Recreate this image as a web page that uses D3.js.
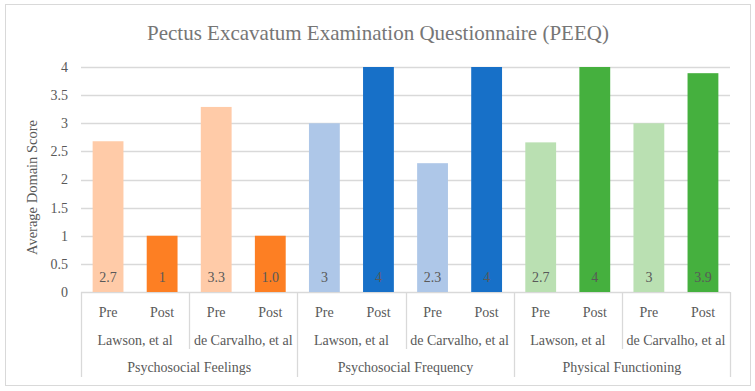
<!DOCTYPE html>
<html>
<head>
<meta charset="utf-8">
<script src="https://cdn.jsdelivr.net/npm/d3@7"></script>
<style>
  html, body { margin: 0; padding: 0; background: #fff; }
  svg { display: block; }
  svg text { font-family: "Liberation Serif", "DejaVu Serif", serif; }
</style>
</head>
<body>
<svg id="chart" width="755" height="391"></svg>
<script>
// chart values
const groups = ["Psychosocial Feelings", "Psychosocial Frequency", "Physical Functioning"];
const studies = ["Lawson, et al", "de Carvalho, et al"];
const phases = ["Pre", "Post"];
const scores = [2.68, 1, 3.29, 1, 3, 4, 2.29, 4, 2.66, 4, 3, 3.89];
const scoreLabels = ["2.7", "1", "3.3", "1.0", "3", "4", "2.3", "4", "2.7", "4", "3", "3.9"];
const yTicks = [0, 0.5, 1, 1.5, 2, 2.5, 3, 3.5, 4];

// colours by group, then Pre / Post
const palette = [
    ["#ffcba8", "#fd7f23"],
    ["#aec7e8", "#1770c8"],
    ["#bae0b2", "#45b03e"],
];

const W = 755, H = 391;
const margin = { top: 67, right: 25, bottom: 99, left: 81 };
const plotW = W - margin.left - margin.right;
const plotH = H - margin.top - margin.bottom;

const rows = [];
groups.forEach((g, gi) => {
    studies.forEach((s, si) => {
        phases.forEach((p, pi) => {
            const i = rows.length;
            rows.push({ i, group: g, gi, study: s, si, phase: p, pi, value: scores[i], label: scoreLabels[i] });
        });
    });
});

const svg = d3.select("#chart");

svg.append("rect")
    .attr("x", 5.5).attr("y", 4.5)
    .attr("width", 745).attr("height", 381)
    .attr("fill", "#fff")
    .attr("stroke", "#d9d9d9");

svg.append("text")
    .attr("x", 378).attr("y", 40)
    .attr("text-anchor", "middle")
    .attr("fill", "#767676")
    .attr("font-size", "21px")
    .text("Pectus Excavatum Examination Questionnaire (PEEQ)");

const g = svg.append("g").attr("transform", `translate(${margin.left},${margin.top})`);

const x = d3.scaleBand()
    .domain(rows.map((d) => d.i))
    .range([0, plotW])
    .paddingInner(0.43)
    .paddingOuter(0.215);
const y = d3.scaleLinear().domain([0, 4]).range([plotH, 0]);

// grid
g.append("g")
    .selectAll("line")
    .data(yTicks)
    .join("line")
    .attr("x1", 0).attr("x2", plotW)
    .attr("y1", (d) => Math.round(y(d)) + 0.5)
    .attr("y2", (d) => Math.round(y(d)) + 0.5)
    .attr("stroke", "#d9d9d9")
    .attr("stroke-width", 1.3);

const yAxis = g.append("g")
    .call(d3.axisLeft(y).tickValues(yTicks).tickFormat((d) => String(d)).tickSize(0).tickPadding(13));
yAxis.attr("font-family", null);
yAxis.select(".domain").remove();
yAxis.selectAll("text")
    .attr("fill", "#595959")
    .attr("font-size", "14px");

svg.append("text")
    .attr("transform", `translate(37,${margin.top + plotH / 2 + 8}) rotate(-90)`)
    .attr("text-anchor", "middle")
    .attr("fill", "#595959")
    .attr("font-size", "14.5px")
    .text("Average Domain Score");

// bars
g.selectAll(".bar")
    .data(rows)
    .join("rect")
    .attr("class", "bar")
    .attr("x", (d) => x(d.i))
    .attr("y", (d) => y(d.value))
    .attr("width", x.bandwidth())
    .attr("height", (d) => y(0) - y(d.value))
    .attr("fill", (d) => palette[d.gi][d.pi]);

g.selectAll(".val")
    .data(rows)
    .join("text")
    .attr("class", "val")
    .attr("x", (d) => x(d.i) + x.bandwidth() / 2)
    .attr("y", plotH - 10)
    .attr("text-anchor", "middle")
    .attr("fill", "#595959")
    .attr("font-size", "14px")
    .text((d) => d.label);

// multi-level category axis
const step = x.step();
const axisG = g.append("g").attr("transform", `translate(0,${plotH})`);
const lineColor = "#d9d9d9";

axisG.selectAll(".phase")
    .data(rows)
    .join("text")
    .attr("class", "phase")
    .attr("x", (d) => x(d.i) + x.bandwidth() / 2)
    .attr("y", 25)
    .attr("text-anchor", "middle")
    .attr("fill", "#595959")
    .attr("font-size", "14px")
    .text((d) => d.phase);

const studyCells = rows.filter((d) => d.pi === 0);
axisG.selectAll(".study")
    .data(studyCells)
    .join("text")
    .attr("class", "study")
    .attr("x", (d) => d.i * step + step)
    .attr("y", 53)
    .attr("text-anchor", "middle")
    .attr("fill", "#595959")
    .attr("font-size", "14px")
    .text((d) => d.study);

const groupCells = rows.filter((d) => d.pi === 0 && d.si === 0);
axisG.selectAll(".group")
    .data(groupCells)
    .join("text")
    .attr("class", "group")
    .attr("x", (d) => d.i * step + step * 2)
    .attr("y", 80)
    .attr("text-anchor", "middle")
    .attr("fill", "#595959")
    .attr("font-size", "14px")
    .text((d) => d.group);

// separators: full height at group edges, shorter between studies
const edges = d3.range(0, rows.length + 1, 2).map((k) => ({ k, full: k % 4 === 0 }));
axisG.selectAll(".sep")
    .data(edges)
    .join("line")
    .attr("class", "sep")
    .attr("x1", (d) => Math.round(d.k * step) + 0.5)
    .attr("x2", (d) => Math.round(d.k * step) + 0.5)
    .attr("y1", 0)
    .attr("y2", (d) => d.full ? 85 : 57)
    .attr("stroke", lineColor)
    .attr("stroke-width", 1.3);
</script>
</body>
</html>
